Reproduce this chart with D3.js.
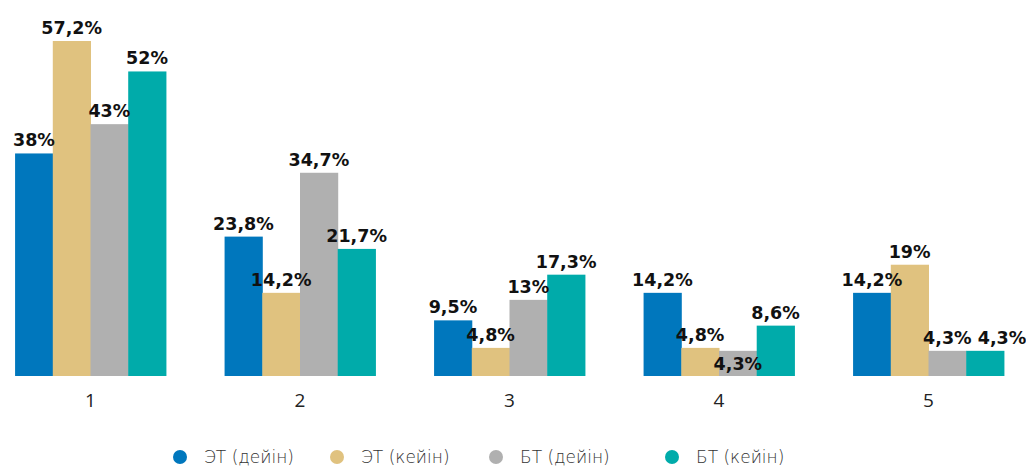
<!DOCTYPE html>
<html>
<head>
  <meta charset="utf-8">
  <script src="https://d3js.org/d3.v7.min.js"></script>
  <style>
    body { margin: 0; background: #fff; }
    svg { display: block; }
  </style>
</head>
<body>
  <div id="chart"></div>
  <script>
    // groups and series
    const categories = ["1", "2", "3", "4", "5"];
    const seriesNames = ["ЭТ (дейін)", "ЭТ (кейін)", "БТ (дейін)", "БТ (кейін)"];
    const seriesColors = ["#0077bd", "#e0c27f", "#b0b0b0", "#00abaa"];

    // values per series, in percent
    const etBefore = [38, 23.8, 9.5, 14.2, 14.2];
    const etAfter = [57.2, 14.2, 4.8, 4.8, 19];
    const btBefore = [43, 34.7, 13, 4.3, 4.3];
    const btAfter = [52, 21.7, 17.3, 8.6, 4.3];
    const labels = [
      ["38%", "23,8%", "9,5%", "14,2%", "14,2%"],
      ["57,2%", "14,2%", "4,8%", "4,8%", "19%"],
      ["43%", "34,7%", "13%", "4,3%", "4,3%"],
      ["52%", "21,7%", "17,3%", "8,6%", "4,3%"]
    ];
    const allSeries = [etBefore, etAfter, btBefore, btAfter];

    const width = 1026, height = 467;
    const baseY = 376, topY = 41;

    const svg = d3.select("#chart").append("svg")
      .attr("width", width)
      .attr("height", height);

    const x0 = d3.scaleBand()
      .domain(categories)
      .range([-14.25, 1033.25])
      .paddingInner(0.28)
      .paddingOuter(0.14);

    const x1 = d3.scaleBand()
      .domain(d3.range(seriesNames.length))
      .range([0, x0.bandwidth()]);

    const y = d3.scaleLinear()
      .domain([0, d3.max(allSeries.flat())])
      .range([baseY, topY]);

    const groups = svg.selectAll("g.grp")
      .data(categories)
      .join("g")
      .attr("class", "grp")
      .attr("transform", d => `translate(${x0(d)},0)`);

    groups.each(function(cat, ci) {
      const g = d3.select(this);
      allSeries.forEach((vals, si) => {
        const v = vals[ci];
        g.append("rect")
          .attr("x", x1(si))
          .attr("y", y(v))
          .attr("width", x1.bandwidth() + 0.5)
          .attr("height", baseY - y(v))
          .attr("fill", seriesColors[si]);
      });
      allSeries.forEach((vals, si) => {
        const v = vals[ci];
        // a couple of labels are nudged in the original to avoid collisions
        let dy = -7, dx = 0;
        if (ci === 3 && si === 2) dy = 19;
        if (ci === 4 && si === 3) dx = 17;
        g.append("text")
          .attr("x", x1(si) + x1.bandwidth() / 2 + dx)
          .attr("y", y(v) + dy)
          .attr("text-anchor", "middle")
          .attr("font-family", "'DejaVu Sans', sans-serif")
          .attr("font-weight", "bold")
          .attr("font-size", 17.5)
          .attr("fill", "#111")
          .text(labels[si][ci]);
      });
    });

    // category axis
    const axis = svg.append("g")
      .attr("transform", `translate(0,${baseY})`)
      .call(d3.axisBottom(x0).tickSize(0).tickPadding(18));
    axis.select(".domain").remove();
    axis.selectAll("text")
      .attr("font-family", "'Open Sans', sans-serif")
      .attr("font-size", 19)
      .attr("fill", "#222");

    // legend
    const legendX = [180, 337, 496, 672];
    const legend = svg.selectAll("g.leg")
      .data(seriesNames)
      .join("g")
      .attr("class", "leg")
      .attr("transform", (d, i) => `translate(${legendX[i]},457)`);
    legend.append("circle")
      .attr("r", 7)
      .attr("fill", (d, i) => seriesColors[i]);
    legend.append("text")
      .attr("x", 24)
      .attr("dy", "0.35em")
      .attr("font-family", "'DejaVu Sans', sans-serif")
      .attr("font-weight", 200)
      .attr("font-size", 17)
      .attr("fill", "#333")
      .text(d => d);
  </script>
</body>
</html>
